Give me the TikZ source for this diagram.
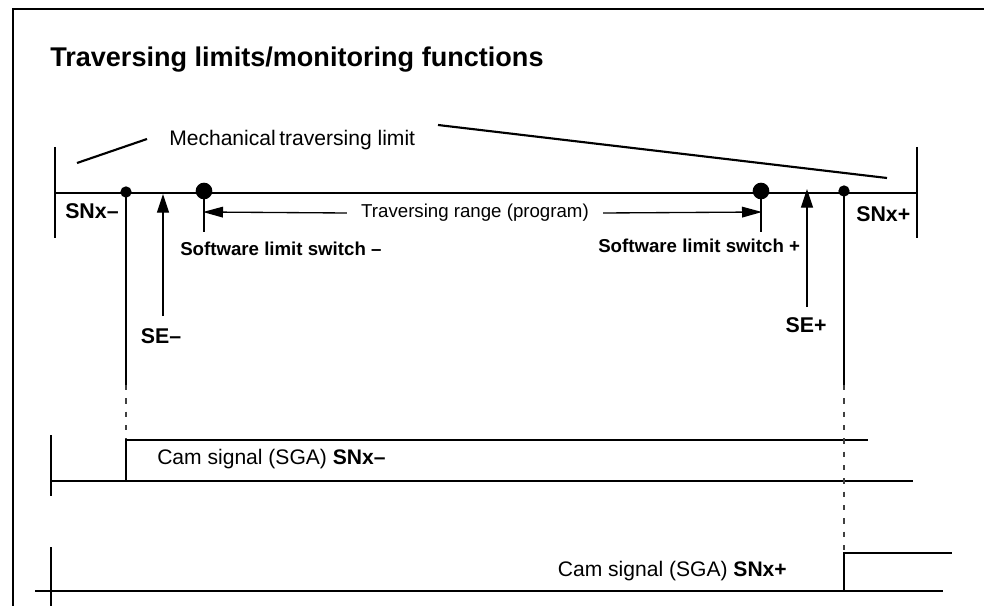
\documentclass[tikz,border=0pt]{standalone}
\usepackage{fontspec}
\setmainfont{Liberation Sans}
\usetikzlibrary{arrows.meta, positioning}
\tikzset{
  thin line/.style  = {line width=1pt},
  lim line/.style   = {line width=1.6pt},
  sig line/.style   = {line width=2.1pt},
  dot/.style        = {circle, fill=black, inner sep=0pt, minimum size=8.5pt},
  bigdot/.style     = {circle, fill=black, inner sep=0pt, minimum size=12.5pt},
  arrow/.style      = {-{Triangle[length=14pt, width=9pt]}, line width=1pt},
  harrow/.style     = {-{Triangle[length=15pt, width=8pt]}, line width=1pt},
  lbl/.style        = {font=\fontsize{15.8pt}{18pt}\selectfont, inner sep=0pt},
  rlbl/.style       = {font=\fontsize{14pt}{16pt}\selectfont, inner sep=0pt},
  blbl/.style       = {font=\fontsize{16pt}{18pt}\selectfont\bfseries, inner sep=0pt},
  slbl/.style       = {font=\fontsize{14pt}{16pt}\selectfont\bfseries, inner sep=0pt},
  dashline/.style   = {line width=1.1pt, black!75, dash pattern=on 4pt off 6pt},
}
\begin{document}
\begin{tikzpicture}[x=0.75pt, y=-0.75pt]
\useasboundingbox (0,0) rectangle (984,606);

% ---------------- frame and title ----------------
\draw[line width=1.1pt] (13,606) -- (13,9) -- (984,9);
\node[anchor=base west, inner sep=0pt, font=\fontsize{20.3pt}{22pt}\selectfont\bfseries]
  (title) at (50,67) {Traversing limits/monitoring functions};

% ---------------- axis ----------------
\coordinate (axL) at (55,193);
\coordinate (axR) at (917,193);
\draw[thin line] (axL) -- (axR);
\draw[thin line] (55,147) -- (55,238);
\draw[thin line] (917,147) -- (917,238);
\node[blbl, anchor=west] (snxm) at (65,211) {SNx--};
\node[blbl, anchor=west] (snxp) at (856,214) {SNx+};

% ---------------- mechanical limit ----------------
\node[lbl, anchor=base west] (mech) at (169,146) {Mechanical\,traversing limit};
\draw[lim line] (77,163) -- (147,139);
\draw[lim line] (438,125) -- (887,178);

% ---------------- cam points ----------------
\node[dot] (camL) at (126,192) {};
\node[dot] (camR) at (844,191) {};
\coordinate (camLs) at (126,385);
\coordinate (camRs) at (844,385);
\draw[thin line] (camL.center) -- (camLs);
\draw[thin line] (camR.center) -- (camRs);

% ---------------- software limit switches ----------------
\node[bigdot] (swL) at (204,191) {};
\node[bigdot] (swR) at (761,191) {};
\coordinate (swLb) at (204,232);
\coordinate (swRb) at (761,232);
\draw[line width=1.4pt] (swL.center) -- (swLb);
\draw[line width=1.4pt] (swR.center) -- (swRb);
\node[slbl, anchor=base west] (swLt) at (180,255) {Software limit switch --};
\node[slbl, anchor=base west] (swRt) at (598,252) {Software limit switch +};

% ---------------- traversing range ----------------
\node[rlbl] (range) at (475,213) {Traversing range (program)};
\draw[harrow] (range.west) ++(-14,0) coordinate (rL) -- (203,212);
\draw[harrow] (range.east) ++(14,0) coordinate (rR) -- (762,212);

% ---------------- SE arrows ----------------
\node[blbl] (sem) at (161,336) {SE--};
\node[blbl] (sep) at (806,325) {SE+};
\coordinate (semtip) at (163,194);
\coordinate (septip) at (807,189);
\draw[arrow] (163,316) -- (semtip);
\draw[arrow] (807,307) -- (septip);

% ---------------- cam signal SNx- ----------------
\draw[thin line] (51,435) -- (51,496);
\draw[thin line] (51,481) -- (913,481);
\draw[dashline] (camLs) -- (126,440);
\draw[sig line] (126,481) -- (126,440) -- (868,440);
\node[lbl, anchor=west] (sigm) at (157,459) {Cam signal (SGA) \textbf{SNx--}};

% ---------------- cam signal SNx+ ----------------
\draw[thin line] (51,547) -- (51,606);
\draw[thin line] (35,591) -- (943,591);
\draw[dashline] (camRs) -- (844,553);
\draw[sig line] (844,591) -- (844,553) -- (952,553);
\node[lbl, anchor=east] (sigp) at (787,571) {Cam signal (SGA) \textbf{SNx+}};

\end{tikzpicture}
\end{document}
